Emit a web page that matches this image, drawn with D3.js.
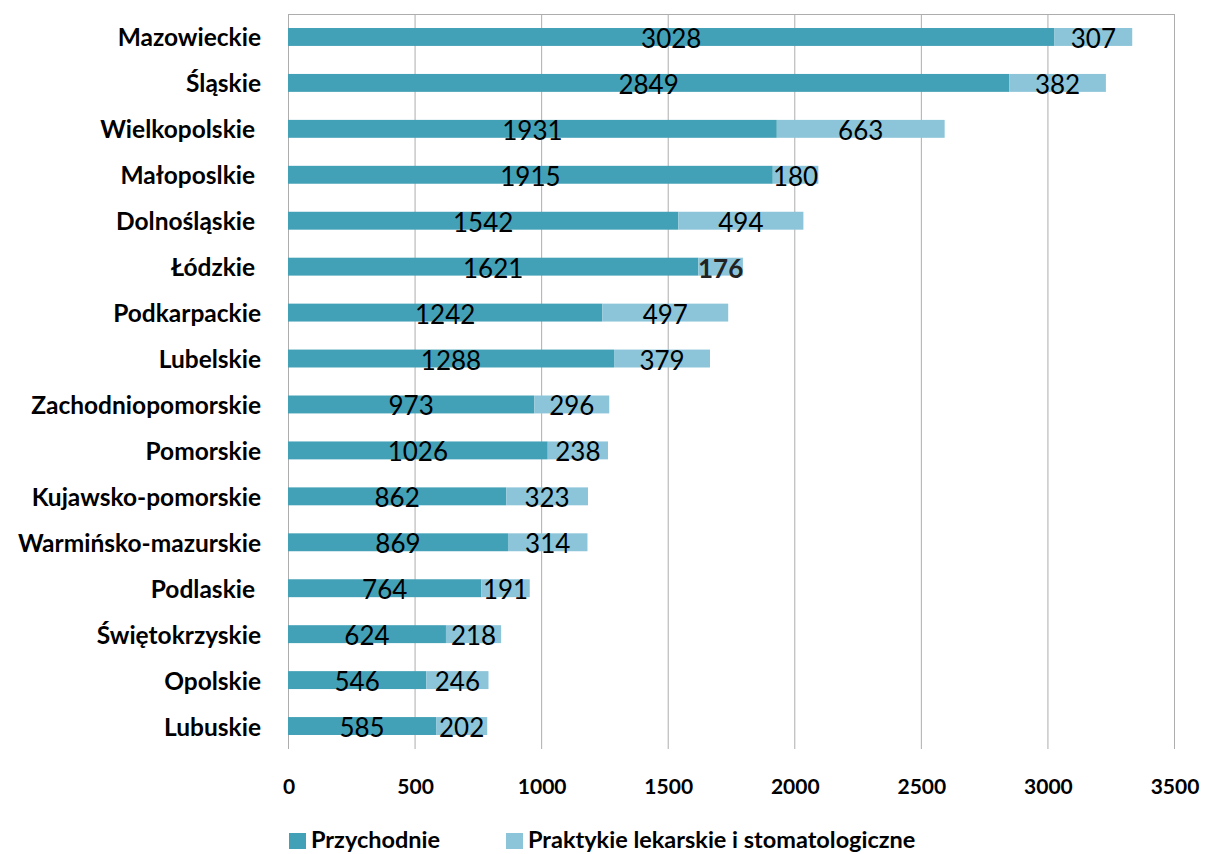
<!DOCTYPE html>
<html>
<head>
<meta charset="utf-8">
<script src="https://cdn.jsdelivr.net/npm/d3@7/dist/d3.min.js"></script>
<style>
  html, body { margin: 0; padding: 0; background: #fff; }
  svg { display: block; font-family: Lato, "Open Sans", sans-serif; }
</style>
</head>
<body>
<svg id="chart" width="1206" height="854"></svg>
<script>
// Regions (voivodeships), top to bottom
const categories = [
  "Mazowieckie", "Śląskie", "Wielkopolskie ", "Małoposlkie ", "Dolnośląskie ",
  "Łódzkie ", "Podkarpackie", "Lubelskie", "Zachodniopomorskie", "Pomorskie",
  "Kujawsko-pomorskie", "Warmińsko-mazurskie", "Podlaskie ", "Świętokrzyskie",
  "Opolskie", "Lubuskie"
];
// Przychodnie
const clinics = [3028, 2849, 1931, 1915, 1542, 1621, 1242, 1288, 973, 1026, 862, 869, 764, 624, 546, 585];
// Praktykie lekarskie i stomatologiczne
const practices = [307, 382, 663, 180, 494, 176, 497, 379, 296, 238, 323, 314, 191, 218, 246, 202];

const seriesNames = ["Przychodnie", "Praktykie lekarskie i stomatologiczne"];
const xTicks = [0, 500, 1000, 1500, 2000, 2500, 3000, 3500];

const colors = ["#43a1b7", "#8cc5d9"];
const boldLabelRows = new Set(["Łódzkie "]);

const svg = d3.select("#chart");
const plot = { left: 288, right: 1174, top: 14, bottom: 749 };

const x = d3.scaleLinear().domain([0, 3500]).range([plot.left, plot.right]);
const y = d3.scaleBand().domain(categories).range([plot.top, plot.bottom]).paddingInner(0.61).paddingOuter(0.305);

// vertical gridlines
svg.append("g")
  .selectAll("line")
  .data(xTicks)
  .join("line")
  .attr("x1", d => x(d) + 0.5).attr("x2", d => x(d) + 0.5)
  .attr("y1", plot.top).attr("y2", plot.bottom)
  .attr("stroke", "#adadad").attr("stroke-width", 1);

// top border of plot area
svg.append("line")
  .attr("x1", plot.left).attr("x2", plot.right + 1)
  .attr("y1", plot.top + 0.5).attr("y2", plot.top + 0.5)
  .attr("stroke", "#adadad");

// stacked data
const rows = categories.map((c, i) => ({ cat: c, vals: [clinics[i], practices[i]] }));
const segs = [];
rows.forEach(r => {
  let acc = 0;
  r.vals.forEach((v, k) => {
    segs.push({ cat: r.cat, k, v, x0: acc, x1: acc + v });
    acc += v;
  });
});

svg.append("g")
  .selectAll("rect")
  .data(segs)
  .join("rect")
  .attr("x", d => x(d.x0))
  .attr("width", d => x(d.x1) - x(d.x0))
  .attr("y", d => y(d.cat))
  .attr("height", y.bandwidth())
  .attr("fill", d => colors[d.k]);

// value labels centred in each segment
svg.append("g")
  .selectAll("text")
  .data(segs)
  .join("text")
  .attr("x", d => (x(d.x0) + x(d.x1)) / 2)
  .attr("y", d => y(d.cat) + y.bandwidth() / 2 + 1)
  .attr("text-anchor", "middle")
  .attr("dominant-baseline", "central")
  .attr("font-size", 26)
  .attr("font-weight", d => (boldLabelRows.has(d.cat) && d.k === 1) ? 700 : 400)
  .attr("fill", d => (boldLabelRows.has(d.cat) && d.k === 1) ? "#222" : "#000")
  .text(d => d.v);

// category axis labels
svg.append("g")
  .selectAll("text")
  .data(categories)
  .join("text")
  .attr("x", 261)
  .attr("y", d => y(d) + y.bandwidth() / 2)
  .attr("text-anchor", "end")
  .attr("dominant-baseline", "central")
  .attr("font-size", 24.5)
  .attr("font-weight", 700)
  .style("white-space", "pre")
  .attr("fill", "#000")
  .text(d => d);

// x tick labels
svg.append("g")
  .selectAll("text")
  .data(xTicks)
  .join("text")
  .attr("x", d => x(d) + 1)
  .attr("y", 785)
  .attr("text-anchor", "middle")
  .attr("dominant-baseline", "central")
  .attr("font-size", 21)
  .attr("font-weight", 700)
  .text(d => d);

// legend
const legendX = [289, 506];
const legend = svg.append("g")
  .selectAll("g")
  .data(seriesNames)
  .join("g")
  .attr("transform", (d, i) => `translate(${legendX[i]},840)`);
legend.append("rect")
  .attr("x", 0).attr("y", -7).attr("width", 17).attr("height", 16)
  .attr("fill", (d, i) => colors[i]);
legend.append("text")
  .attr("x", 22).attr("y", -1)
  .attr("dominant-baseline", "central")
  .attr("font-size", 23.5)
  .attr("font-weight", 700)
  .text(d => d);
</script>
</body>
</html>
